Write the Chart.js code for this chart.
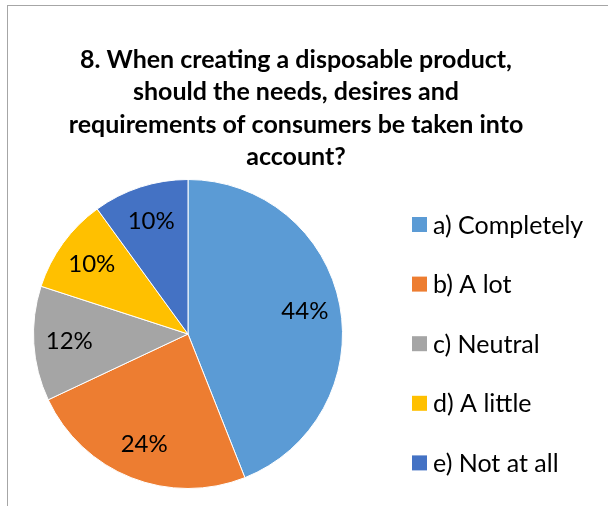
<!DOCTYPE html>
<html>
<head>
<meta charset="utf-8">
<script src="https://cdn.jsdelivr.net/npm/chart.js@4/dist/chart.umd.min.js"></script>
<style>
  html, body { margin: 0; padding: 0; background: #fff; }
  #wrap { width: 608px; height: 506px; position: relative; }
</style>
</head>
<body>
<div id="wrap"><canvas id="pieCanvas" width="608" height="506"></canvas></div>
<script>
// ── Survey data ── //
const answerLabels = ['a) Completely', 'b) A lot', 'c) Neutral', 'd) A little', 'e) Not at all'];
const answerShares = [44, 24, 12, 10, 10];
const sliceColors = ['#5B9BD5', '#ED7D31', '#A5A5A5', '#FFC000', '#4472C4'];
const titleLines = [
  '8. When creating a disposable product,',
  'should the needs, desires and',
  'requirements of consumers be taken into',
  'account?'
];

const FONT = 'Lato, "Liberation Sans", sans-serif';

// ── Frame, title, slice labels, legend ── //
const decorPlugin = {
  id: 'decor',
  beforeDraw(chart) {
    const c = chart.ctx;
    c.save();
    c.fillStyle = '#fff';
    c.fillRect(0, 0, chart.width, chart.height);
    c.strokeStyle = '#a6a6a6';
    c.lineWidth = 1;
    c.strokeRect(7.5, 5.5, chart.width + 10, chart.height + 10);
    c.restore();
  },
  afterDraw(chart) {
    const c = chart.ctx;
    c.save();

    // title
    c.fillStyle = '#000';
    c.textAlign = 'center';
    c.textBaseline = 'alphabetic';
    c.font = 'bold 25px ' + FONT;
    titleLines.forEach((line, i) => {
      c.fillText(line, 296, 68 + i * 32.3);
    });

    // percentage labels inside slices
    const meta = chart.getDatasetMeta(0);
    const total = answerShares.reduce((a, b) => a + b, 0);
    c.font = '24px ' + FONT;
    c.textBaseline = 'middle';
    meta.data.forEach((arc, i) => {
      const mid = (arc.startAngle + arc.endAngle) / 2;
      const r = arc.outerRadius * 0.77;
      const x = arc.x + Math.cos(mid) * r;
      const y = arc.y + Math.sin(mid) * r;
      const pct = Math.round(answerShares[i] / total * 100);
      c.fillText(pct + '%', x, y);
    });

    // legend
    c.textAlign = 'left';
    c.font = '25px ' + FONT;
    answerLabels.forEach((label, i) => {
      const cy = 224.5 + i * 59.6;
      c.fillStyle = sliceColors[i];
      c.fillRect(412, cy - 7.5, 15, 15);
      c.fillStyle = '#000';
      c.fillText(label, 433, cy + 1);
    });

    c.restore();
  }
};

const ctx = document.getElementById('pieCanvas');
new Chart(ctx, {
  type: 'pie',
  data: {
    labels: answerLabels,
    datasets: [{
      data: answerShares,
      backgroundColor: sliceColors,
      borderColor: '#fff',
      borderWidth: 1,
    }],
  },
  options: {
    responsive: false,
    animation: false,
    layout: {
      padding: { left: 33, top: 179, right: 265, bottom: 17 },
    },
    plugins: {
      legend: { display: false },
      title: { display: false },
      tooltip: { enabled: false },
    },
  },
  plugins: [decorPlugin],
});
</script>
</body>
</html>
